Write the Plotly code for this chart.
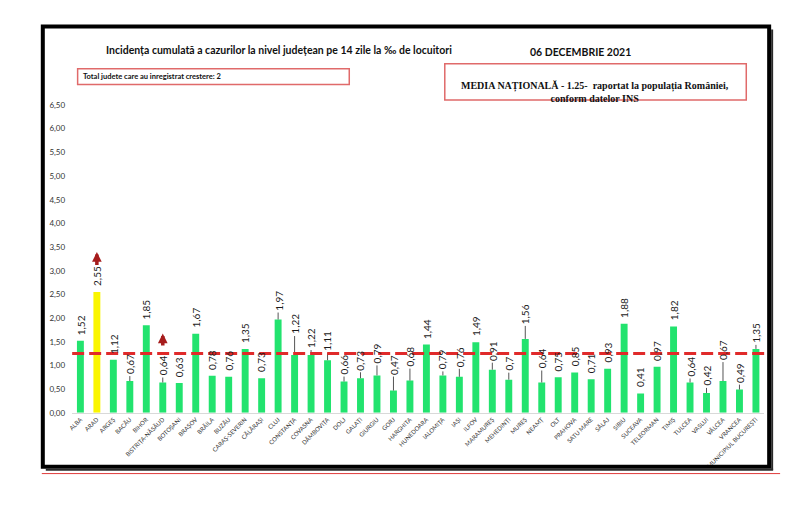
import plotly.graph_objects as go

W, H = 800, 508

judete = [
    "ALBA", "ARAD", "ARGEȘ", "BACĂU", "BIHOR", "BISTRIȚA-NĂSĂUD", "BOTOȘANI",
    "BRAȘOV", "BRĂILA", "BUZĂU", "CARAȘ-SEVERIN", "CĂLĂRAȘI", "CLUJ",
    "CONSTANȚA", "COVASNA", "DÂMBOVIȚA", "DOLJ", "GALAȚI", "GIURGIU", "GORJ",
    "HARGHITA", "HUNEDOARA", "IALOMIȚA", "IAȘI", "ILFOV", "MARAMUREȘ",
    "MEHEDINȚI", "MUREȘ", "NEAMȚ", "OLT", "PRAHOVA", "SATU MARE", "SĂLAJ",
    "SIBIU", "SUCEAVA", "TELEORMAN", "TIMIȘ", "TULCEA", "VASLUI", "VÂLCEA",
    "VRANCEA", "MUNICIPIUL BUCUREȘTI",
]
incidenta = [
    1.52, 2.55, 1.12, 0.67, 1.85, 0.64, 0.63, 1.67, 0.78, 0.76, 1.35, 0.73,
    1.97, 1.22, 1.22, 1.11, 0.66, 0.73, 0.79, 0.47, 0.68, 1.44, 0.79, 0.76,
    1.49, 0.91, 0.7, 1.56, 0.64, 0.75, 0.85, 0.71, 0.93, 1.88, 0.41, 0.97,
    1.82, 0.64, 0.42, 0.67, 0.49, 1.35,
]
media_nationala = 1.25
maxim = "ARAD"
crestere = ["ARAD", "BISTRIȚA-NĂSĂUD"]
y_ticks = [0, 0.5, 1, 1.5, 2, 2.5, 3, 3.5, 4, 4.5, 5, 5.5, 6, 6.5]

# leader-line length (px) for the value labels, as in the original excel chart
leader = [0, 0, 0, 4, 0, 4, 0, 0, 0, 0, 0, 0, 6, 18, 4, 6, 4, 5, 9, 13, 11, 0,
          3, 7, 0, 6, 6, 12, 11, 0, 0, 0, 0, 0, 0, 0, 0, 3, 4, 18, 4, 3]
# arrow (head, tail) offsets above the bar, px
arrow_pos = {"ARAD": (40, 25), "BISTRIȚA-NĂSĂUD": (49, 35)}


def px(x):
    return x / W


def py(y):
    return 1 - y / H


GREEN = "#22E36E"
YELLOW = "#FAF500"

colors = [YELLOW if j == maxim else GREEN for j in judete]

fig = go.Figure(go.Bar(
    x=judete, y=incidenta, marker_color=colors, marker_line_width=0,
))

annotations = []
shapes = []

for i, (j, v) in enumerate(zip(judete, incidenta)):
    lift = leader[i]
    annotations.append(dict(
        x=i, y=v, xref="x", yref="y", text=f"{v:g}".replace(".", ","),
        showarrow=False, textangle=-90, yanchor="bottom", xanchor="center",
        yshift=max(lift, 3) + 1,
        font=dict(family="Lato", size=10, color="#1a1a1a"),
    ))
    if lift:
        shapes.append(dict(
            type="line", xref="x", yref="y", ysizemode="pixel", yanchor=v,
            x0=i, x1=i, y0=0, y1=lift + 1, line=dict(color="#555555", width=1),
        ))
    if j in crestere:
        head, tail = arrow_pos[j]
        annotations.append(dict(
            x=i, y=v, xref="x", yref="y", text=" ", font=dict(size=1),
            showarrow=True, arrowhead=2, arrowsize=0.55, arrowwidth=3.5,
            arrowcolor="#A61C1C", ax=0, ay=head - tail, yshift=head, standoff=0,
        ))

# national average
shapes.append(dict(
    type="line", xref="x domain", yref="y", x0=0, x1=1,
    y0=media_nationala, y1=media_nationala,
    line=dict(color="#E02A2A", width=3, dash="12px,5px"),
))

# text boxes
shapes.append(dict(type="rect", xref="paper", yref="paper",
                   x0=px(74), x1=px(347), y0=py(81), y1=py(65),
                   line=dict(color="#E06A6A", width=1.5)))
shapes.append(dict(type="rect", xref="paper", yref="paper",
                   x0=px(443), x1=px(746), y0=py(97), y1=py(60),
                   line=dict(color="#E06A6A", width=1.5)))

# outer frame
shapes.append(dict(type="rect", xref="paper", yref="paper",
                   x0=px(39), x1=px(769), y0=py(471), y1=py(22),
                   line=dict(color="black", width=4)))
shapes.append(dict(type="line", xref="paper", yref="paper",
                   x0=px(772), x1=px(772), y0=py(474), y1=py(25),
                   line=dict(color="#2a2a2a", width=2)))
shapes.append(dict(type="line", xref="paper", yref="paper",
                   x0=px(42), x1=px(773), y0=py(474), y1=py(474),
                   line=dict(color="#2a2a2a", width=2)))
shapes.append(dict(type="line", xref="paper", yref="paper",
                   x0=px(38), x1=px(780), y0=py(478), y1=py(478),
                   line=dict(color="#E03A3A", width=1)))

annotations += [
    dict(x=px(100), y=py(38), xref="paper", yref="paper", xanchor="left",
         showarrow=False,
         text="<b>Incidența cumulată a cazurilor la nivel județean pe 14 zile la ‰ de locuitori</b>",
         font=dict(family="Lato", size=10.5, color="#111111")),
    dict(x=px(527), y=py(40), xanchor="left", xref="paper", yref="paper",
         showarrow=False, text="<b>06 DECEMBRIE 2021</b>",
         font=dict(family="Lato", size=10.5, color="#111111")),
    dict(x=px(77), y=py(73), xanchor="left", yanchor="middle",
         xref="paper", yref="paper",
         showarrow=False, text="<b>Total judete care au inregistrat crestere: 2</b>",
         font=dict(family="Lato", size=7.5, color="#111111")),
    dict(x=px(594), y=py(74), xanchor="center", xref="paper", yref="paper",
         showarrow=False,
         text="<b>MEDIA NAȚIONALĂ - 1.25-  raportat la populația României,<br>conform datelor INS</b>",
         font=dict(family="Liberation Serif", size=10, color="#111111")),
]

fig.update_layout(
    width=W, height=H,
    margin=dict(l=0, r=0, t=0, b=0),
    paper_bgcolor="white", plot_bgcolor="white",
    separators=",.",
    showlegend=False,
    bargap=0.58,
    shapes=shapes,
    annotations=annotations,
    xaxis=dict(
        domain=[px(68.5), px(764)], tickangle=-45, showgrid=False,
        showline=True, linecolor="#d9d9d9", linewidth=1,
        tickfont=dict(family="Lato", size=6, color="#333333"),
    ),
    yaxis=dict(
        domain=[py(416), py(102)], range=[0, 6.5], tickvals=y_ticks,
        tickformat=".2f", showgrid=False, zeroline=False,
        ticklabelstandoff=6,
        tickfont=dict(family="Lato", size=8, color="#333333"),
    ),
)

# page margin off, so the figure sits at the window's corner
fig.write_html("out.html", config={"displayModeBar": False},
               post_script="document.body.style.margin='0';")
